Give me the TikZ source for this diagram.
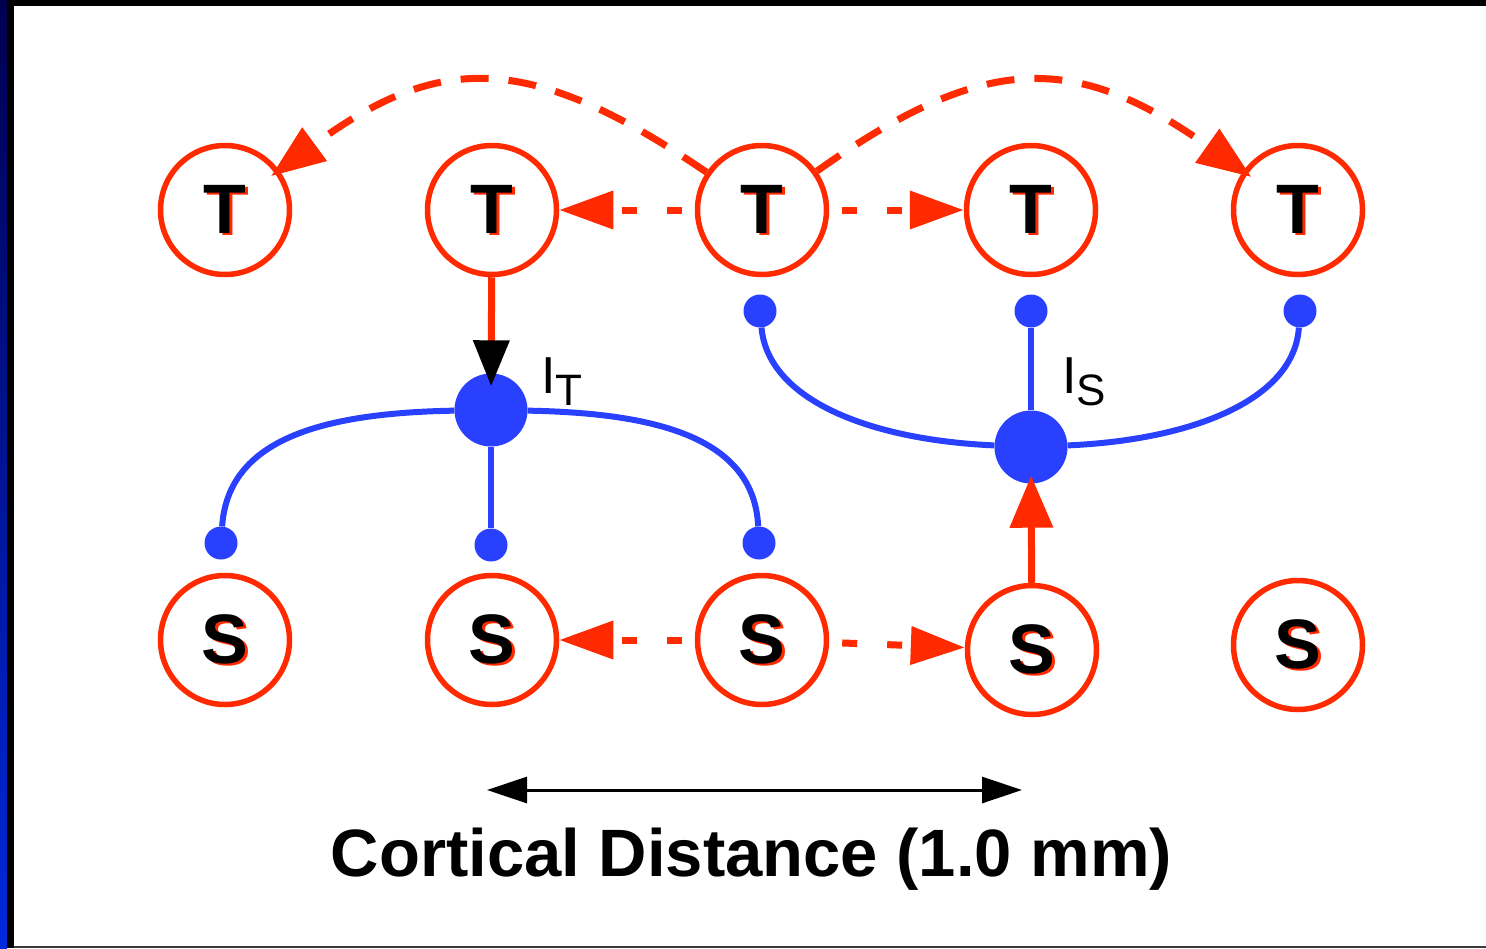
\documentclass[tikz,border=0pt]{standalone}
\usepackage{fontspec}
\setmainfont{Liberation Sans}
\usetikzlibrary{arrows.meta,calc}
\definecolor{nred}{RGB}{255,42,0}
\definecolor{nblue}{RGB}{42,64,255}
\definecolor{navytop}{RGB}{0,0,80}
\definecolor{navybot}{RGB}{0,40,220}
\definecolor{edgegray}{RGB}{60,60,60}
\newcommand{\shadowletter}[1]{\makebox[0pt][l]{\hspace{3pt}\raisebox{-2pt}{\textcolor{nred}{#1}}}#1}
\begin{document}
\begin{tikzpicture}[x=1pt,y=-1pt,
  cell/.style={circle,draw=nred,line width=5.5pt,minimum size=129pt,inner sep=0pt,font=\fontsize{70}{70}\selectfont\bfseries},
  bigdot/.style={circle,fill=nblue,minimum size=73pt,inner sep=0pt},
  smalldot/.style={circle,fill=nblue,minimum size=33pt,inner sep=0pt},
  dend/.style={draw=nblue,line width=6pt},
  lat/.style={draw=nred,line width=7pt,dash pattern=on 15pt off 30pt,dash phase=32pt,-{Triangle[length=54pt,width=37pt]}},
  arcarrow/.style={draw=nred,line width=7pt,dash pattern=on 28pt off 20pt,-{Triangle[length=54pt,width=40pt]},shorten >=-10pt},
  lbl/.style={font=\fontsize{52}{52}\selectfont,inner sep=0pt,anchor=base west}
]
\useasboundingbox (0,0) rectangle (1486,948);
\fill[white] (0,0) rectangle (1486,948);
\shade[top color=navytop,bottom color=navybot] (0,0) rectangle (7,948);
\fill[black] (7,0) rectangle (14,948);
\fill[black] (7,0) rectangle (1486,6);
\fill[edgegray] (14,945.5) rectangle (1486,948);

% cells
\foreach \n/\x/\y/\t in {T1/225/210/T,T2/492/210/T,T3/762/210/T,T4/1031/210/T,T5/1298/210/T,
                         S1/225/640/S,S2/492/640/S,S3/762/640/S,S4/1032/650/S,S5/1298/645/S}{
  \node[cell] (\n) at (\x,\y) {\shadowletter{\t}};
}

% interneurons
\node[bigdot] (IT) at (491,410) {};
\node[bigdot] (IS) at (1031,447) {};
\node[smalldot] (a1) at (221,543) {};
\node[smalldot] (a2) at (491,545) {};
\node[smalldot] (a3) at (759,543) {};
\node[smalldot] (b1) at (760,311) {};
\node[smalldot] (b2) at (1031,311) {};
\node[smalldot] (b3) at (1300,311) {};

\draw[dend] (IT) .. controls (320,413) and (228,440) .. (a1);
\draw[dend] (IT) -- (a2);
\draw[dend] (IT) .. controls (662,413) and (754,440) .. (a3);
\draw[dend] (IS) .. controls (870,440) and (768,400) .. (b1);
\draw[dend] (IS) -- (b2);
\draw[dend] (IS) .. controls (1192,440) and (1294,400) .. (b3);

% lateral connections
\draw[lat] (T3) -- (T2);
\draw[lat] (T3) -- (T4);
\draw[lat] (S3) -- (S2);
\draw[lat] (S3) -- (S4);
\draw[arcarrow] (T3) .. controls (530,52) and (440,52) .. (T1);
\draw[arcarrow] (T3) .. controls (985,52) and (1075,52) .. (T5);

% feedforward to interneurons
\draw[draw=nred,line width=7pt,-{Triangle[length=46pt,width=35pt,color=black,fill=black]},shorten >=-13pt] (T2) -- (IT);
\draw[draw=nred,line width=7pt,-{Triangle[length=52pt,width=42pt]},shorten >=-8pt] (S4) -- (IS);

% labels
\node[lbl] (lIT) at (541,393) {I\raisebox{-12pt}{\fontsize{44}{44}\selectfont T}};
\node[lbl] (lIS) at (1062,393) {I\raisebox{-12pt}{\fontsize{44}{44}\selectfont S}};

% distance bar
\coordinate (dl) at (487,790);
\coordinate (dr) at (1022,790);
\draw[line width=3pt,{Triangle[length=40pt,width=26pt]}-{Triangle[length=40pt,width=26pt]}] (dl) -- (dr);
\node[font=\fontsize{67}{67}\selectfont\bfseries,inner sep=0pt,anchor=base] (cap) at (751.5,876) {Cortical Distance (1.0 mm)};
\end{tikzpicture}
\end{document}
